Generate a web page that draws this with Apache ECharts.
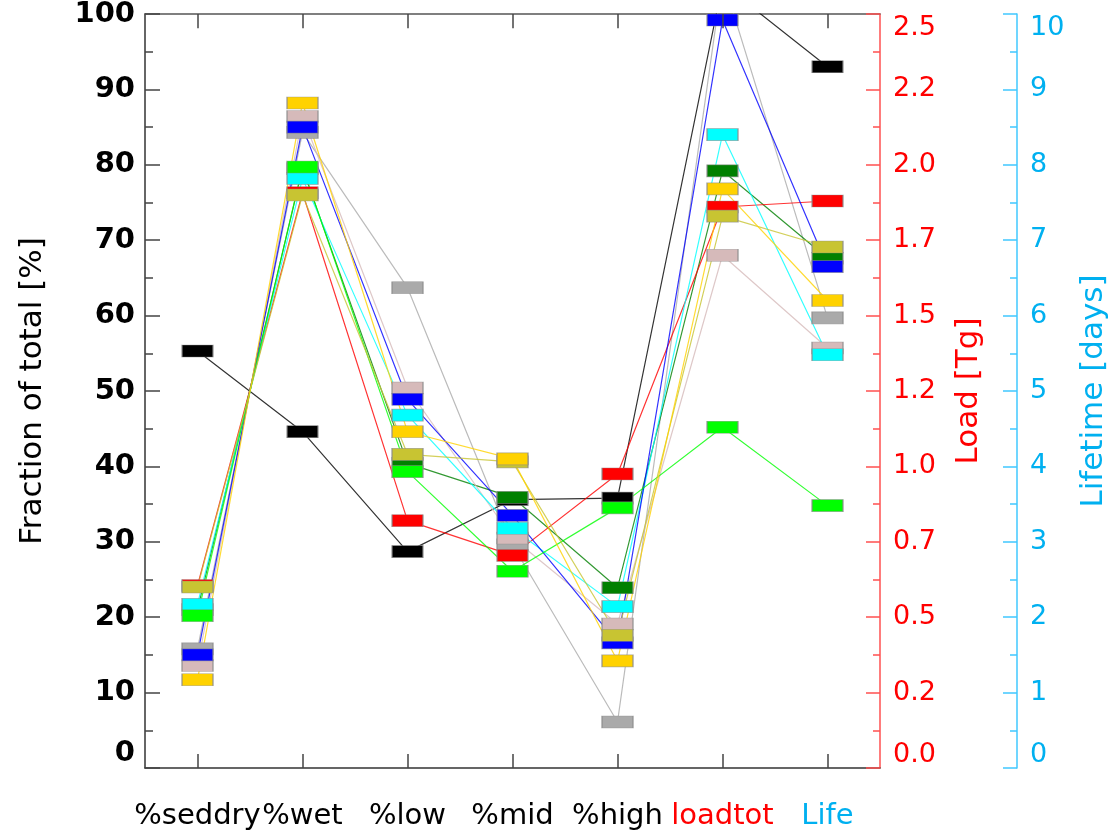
<!DOCTYPE html>
<html>
<head>
<meta charset="utf-8">
<script src="https://cdn.jsdelivr.net/npm/echarts@6/dist/echarts.min.js"></script>
<style>
html,body{margin:0;padding:0;background:#fff;overflow:hidden;}
#chart{width:1109px;height:832px;}
</style>
</head>
<body>
<div id="chart"></div>
<script>
// ---- data ----
const categories = ['%seddry', '%wet', '%low', '%mid', '%high', 'loadtot', 'Life'];
const categoryColors = ['#000000', '#000000', '#000000', '#000000', '#000000', '#ff0000', '#00b0f0'];

const fractionTickLabels = ['0', '10', '20', '30', '40', '50', '60', '70', '80', '90', '100'];
const loadTickLabels = ['0.0', '0.2', '0.5', '0.7', '1.0', '1.2', '1.5', '1.7', '2.0', '2.2', '2.5'];
const lifeTickLabels = ['0', '1', '2', '3', '4', '5', '6', '7', '8', '9', '10'];

const fractionMax = 100;   // left axis (%)
const loadMax = 2.5;       // red axis (Tg)
const lifeMax = 10;        // cyan axis (days)

// values: first five in %, loadtot in Tg, Life in days
const seriesGray      = [15.8, 84.3, 63.7, 29.6,  6.1, 2.62, 5.97];
const seriesBlack     = [55.3, 44.6, 28.7, 35.6, 35.8, 2.60, 9.30];
const seriesDarkGreen = [21.0, 79.5, 40.4, 35.9, 23.9, 1.98, 6.76];
const seriesRed       = [24.2, 76.3, 32.8, 28.2, 39.0, 1.86, 7.52];
const seriesRosy      = [13.6, 86.4, 50.4, 30.5, 19.1, 1.70, 5.57];
const seriesCyan      = [21.7, 78.2, 46.8, 31.8, 21.4, 2.10, 5.48];
const seriesBlue      = [15.0, 85.0, 48.9, 33.5, 16.6, 2.48, 6.65];
const seriesGreen     = [20.2, 79.7, 39.3, 26.1, 34.5, 1.13, 3.48];
const seriesOlive     = [24.0, 76.0, 41.6, 40.6, 17.6, 1.83, 6.91];
const seriesYellow    = [11.7, 88.2, 44.6, 41.0, 14.2, 1.92, 6.20];

const seriesDefs = [
  {name: 'gray',      color: '#aaaaaa', data: seriesGray},
  {name: 'black',     color: '#000000', data: seriesBlack},
  {name: 'darkgreen', color: '#008000', data: seriesDarkGreen},
  {name: 'red',       color: '#ff0000', data: seriesRed},
  {name: 'rosy',      color: '#d6baba', data: seriesRosy},
  {name: 'cyan',      color: '#00ffff', data: seriesCyan},
  {name: 'blue',      color: '#0000ff', data: seriesBlue},
  {name: 'green',     color: '#00ff00', data: seriesGreen},
  {name: 'olive',     color: '#c8c432', data: seriesOlive},
  {name: 'yellow',    color: '#ffd200', data: seriesYellow}
];

// map loadtot (Tg) and Life (days) onto the common plotting scale of the left axis
function toCommonScale(arr) {
  return arr.map(function (v, i) {
    if (i === 5) return v / loadMax * fractionMax;
    if (i === 6) return v / lifeMax * fractionMax;
    return v;
  });
}

const chart = echarts.init(document.getElementById('chart'), null, {renderer: 'canvas', width: 1109, height: 832});

const lineSeries = seriesDefs.map(function (s) {
  return {
    name: s.name, type: 'line', xAxisIndex: 0, yAxisIndex: 0,
    data: toCommonScale(s.data),
    clip: true,
    symbol: 'rect', symbolSize: [31, 12],
    lineStyle: {color: s.color, width: 1.2, opacity: 0.8},
    itemStyle: {color: s.color, borderColor: 'rgba(140,140,140,0.7)', borderWidth: 1},
    emphasis: {disabled: true}
  };
});

// tick marks hanging down from the top frame edge at each category (length in axis units)
const topTickLength = 1.9;
const topTickSeries = {
  name: 'topTicks', type: 'line', xAxisIndex: 0, yAxisIndex: 0, silent: true, z: 6,
  data: [], showSymbol: false,
  markLine: {
    silent: true, symbol: ['none', 'none'], animation: false,
    label: {show: false},
    lineStyle: {color: '#444444', width: 1.5, type: 'solid'},
    emphasis: {disabled: true},
    data: categories.map(function (c) {
      return [{coord: [c, fractionMax]}, {coord: [c, fractionMax - topTickLength]}];
    })
  }
};

const option = {
  backgroundColor: '#ffffff',
  animation: false,
  grid: {left: 145, right: 229, top: 14, bottom: 64, containLabel: false, outerBoundsMode: 'none'},
  xAxis: [
    {
      show: true, type: 'category', data: categories, position: 'bottom', boundaryGap: true,
      axisLine: {show: true, onZero: false, lineStyle: {color: '#333333', width: 1.5}},
      axisTick: {show: true, inside: true, alignWithLabel: true, interval: 0, length: 14, lineStyle: {color: '#444444', width: 1.5}},
      axisLabel: {
        show: true, interval: 0, hideOverlap: false, margin: 34, fontFamily: 'DejaVu Sans', fontSize: 29,
        color: function (value) { return categoryColors[categories.indexOf(value)]; }
      },
      splitLine: {show: false}
    },
    {
      show: true, type: 'category', data: categories, position: 'top', boundaryGap: true,
      axisLine: {show: true, onZero: false, lineStyle: {color: '#555555', width: 1.5}},
      axisTick: {show: false},
      axisLabel: {show: false},
      splitLine: {show: false}
    }
  ],
  yAxis: [
    {
      type: 'value', position: 'left', min: 0, max: fractionMax, interval: 10,
      name: 'Fraction of total [%]', nameLocation: 'middle', nameRotate: 90, nameGap: 97,
      nameTextStyle: {fontFamily: 'DejaVu Sans', fontSize: 31, color: '#000000'},
      axisLine: {show: true, onZero: false, lineStyle: {color: '#333333', width: 1.5}},
      axisTick: {show: true, inside: true, length: 15, lineStyle: {color: '#444444', width: 1.5}},
      minorTick: {show: true, splitNumber: 2, length: 8, lineStyle: {color: '#444444', width: 1.5}},
      axisLabel: {
        show: true, margin: 10, fontFamily: 'DejaVu Sans', fontWeight: 'bold', fontSize: 29, color: '#000000',
        verticalAlignMinLabel: 'bottom',
        formatter: function (v, i) { return fractionTickLabels[i]; }
      },
      splitLine: {show: false}
    },
    {
      type: 'value', position: 'right', offset: 0, min: 0, max: fractionMax, interval: 10,
      name: 'Load [Tg]', nameLocation: 'middle', nameRotate: 90, nameGap: 73,
      nameTextStyle: {fontFamily: 'DejaVu Sans', fontSize: 31, color: '#ff0000'},
      axisLine: {show: true, onZero: false, lineStyle: {color: '#ff5050', width: 1.5}},
      axisTick: {show: true, inside: true, length: 14, lineStyle: {color: '#ff5050', width: 1.5}},
      minorTick: {show: true, splitNumber: 2, length: 7, lineStyle: {color: '#ff5050', width: 1.5}},
      axisLabel: {
        show: true, margin: 13, fontFamily: 'DejaVu Sans', fontSize: 27, color: '#ff0000',
        verticalAlignMinLabel: 'bottom', verticalAlignMaxLabel: 'top',
        formatter: function (v, i) { return loadTickLabels[i]; }
      },
      splitLine: {show: false}
    },
    {
      type: 'value', position: 'right', offset: 137, min: 0, max: fractionMax, interval: 10,
      name: 'Lifetime [days]', nameLocation: 'middle', nameRotate: 90, nameGap: 61,
      nameTextStyle: {fontFamily: 'DejaVu Sans', fontSize: 31, color: '#00b0f0'},
      axisLine: {show: true, onZero: false, lineStyle: {color: '#40c8ff', width: 1.5}},
      axisTick: {show: true, inside: true, length: 14, lineStyle: {color: '#40c8ff', width: 1.5}},
      minorTick: {show: true, splitNumber: 2, length: 7, lineStyle: {color: '#40c8ff', width: 1.5}},
      axisLabel: {
        show: true, margin: 13, fontFamily: 'DejaVu Sans', fontSize: 27, color: '#00b0f0',
        verticalAlignMinLabel: 'bottom', verticalAlignMaxLabel: 'top',
        formatter: function (v, i) { return lifeTickLabels[i]; }
      },
      splitLine: {show: false}
    }
  ],
  series: lineSeries.concat([topTickSeries])
};

chart.setOption(option);
</script>
</body>
</html>
